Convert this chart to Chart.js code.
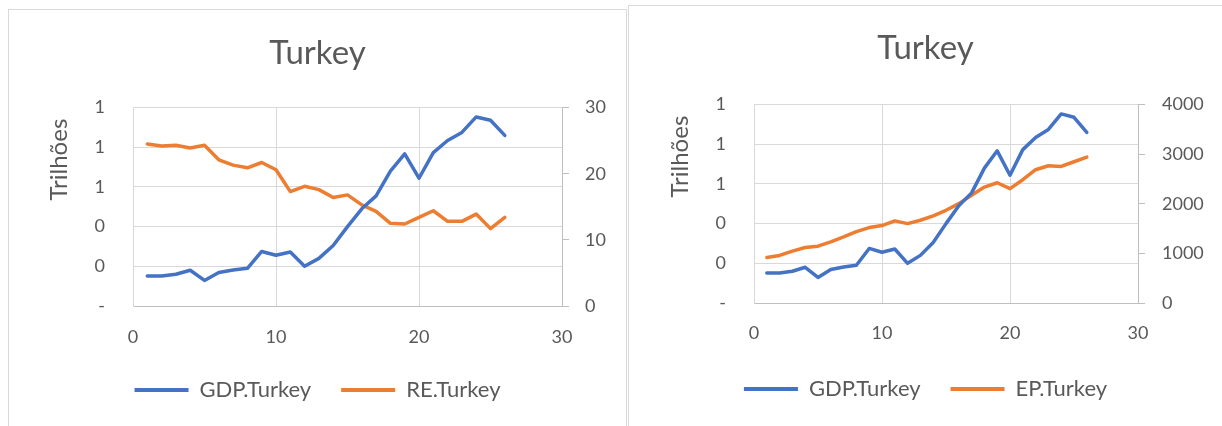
<!DOCTYPE html>
<html lang="pt">
<head>
  <meta charset="UTF-8">
  <title>Turkey</title>
  <script src="https://cdn.jsdelivr.net/npm/chart.js"></script>
  <style>
    body {
      margin: 0;
      width: 1222px;
      height: 426px;
      overflow: hidden;
      position: relative;
      background: #fff;
      font-family: Lato, sans-serif;
    }

    .panel {
      position: absolute;
      border: 1px solid #D9D9D9;
      background: #fff;
    }

    #p1 { left: 8px; top: 9px; width: 617px; height: 440px; }
    #p2 { left: 628px; top: 5px; width: 600px; height: 440px; }

    canvas { display: block; }
  </style>
</head>
<body>
  <div class="panel" id="p1"><canvas id="c1" width="617" height="416"></canvas></div>
  <div class="panel" id="p2"><canvas id="c2" width="593" height="420"></canvas></div>

  <script>
    const periods = [1, 2, 3, 4, 5, 6, 7, 8, 9, 10, 11, 12, 13, 14, 15, 16, 17, 18, 19, 20, 21, 22, 23, 24, 25, 26];
    const gdpTurkey = [0.151, 0.151, 0.16, 0.18, 0.129, 0.169, 0.181, 0.19, 0.275, 0.256, 0.272, 0.2, 0.24,
                       0.305, 0.40, 0.49, 0.555, 0.68, 0.767, 0.644, 0.773, 0.834, 0.875, 0.953, 0.936, 0.86];
    const reTurkey = [24.5, 24.2, 24.3, 23.9, 24.3, 22.1, 21.3, 20.9, 21.7, 20.6, 17.3, 18.1, 17.6,
                      16.4, 16.8, 15.3, 14.3, 12.5, 12.4, 13.4, 14.4, 12.8, 12.8, 13.9, 11.7, 13.4];
    const epTurkey = [918, 959, 1045, 1119, 1146, 1233, 1333, 1440, 1521, 1561, 1655, 1601, 1668,
                      1755, 1869, 2003, 2171, 2338, 2425, 2305, 2486, 2687, 2767, 2754, 2848, 2941];
    const xTicks = { min: 0, max: 30, step: 10 };
    const leftTicks = { min: 0, max: 1, step: 0.2 };

    const BLUE = '#4472C4';
    const ORANGE = '#ED7D31';
    const TEXT = '#595959';
    const GRID = '#D9D9D9';
    const AXIS = '#BFBFBF';
    const FONT = 'Lato, sans-serif';

    // rotated "Trilhões" title, placed like the spreadsheet does it
    const axisTitlePlugin = {
      id: 'axisTitle',
      afterDraw(chart, args, opts) {
        const { ctx, chartArea } = chart;
        ctx.save();
        ctx.translate(chartArea.left - opts.dx, chartArea.top + opts.dy);
        ctx.rotate(-Math.PI / 2);
        ctx.font = opts.size + 'px ' + FONT;
        ctx.fillStyle = TEXT;
        ctx.textAlign = 'center';
        ctx.textBaseline = 'middle';
        ctx.fillText(opts.text, 0, 0);
        ctx.restore();
      }
    };

    function buildChart(id, o) {
      const points = arr => periods.map((x, i) => ({ x: x, y: arr[i] }));
      return new Chart(document.getElementById(id), {
        type: 'line',
        data: {
          datasets: [
            { label: 'GDP.Turkey', data: points(gdpTurkey), yAxisID: 'y', borderColor: BLUE, backgroundColor: BLUE },
            { label: o.label, data: points(o.series), yAxisID: 'y1', borderColor: ORANGE, backgroundColor: ORANGE }
          ]
        },
        plugins: [axisTitlePlugin],
        options: {
          responsive: false,
          animation: false,
          layout: { padding: { top: 0, right: 0, left: 0, bottom: o.padBottom } },
          elements: {
            // point borderWidth only feeds the legend line thickness (radius is 0)
            point: { radius: 0, borderWidth: 4 },
            line: { borderWidth: 3.5, tension: 0, borderCapStyle: 'round', borderJoinStyle: 'round' }
          },
          plugins: {
            title: {
              display: true,
              text: 'Turkey',
              color: TEXT,
              font: { family: FONT, size: 33, weight: 'normal' },
              padding: { top: o.titleTop, bottom: o.titleBottom }
            },
            legend: {
              position: 'bottom',
              labels: {
                usePointStyle: true,
                pointStyle: 'line',
                pointStyleWidth: 54,
                color: TEXT,
                font: { family: FONT, size: 22 },
                padding: 30
              }
            },
            tooltip: { enabled: false },
            axisTitle: { text: 'Trilhões', size: 24, dx: 74, dy: 52 }
          },
          scales: {
            x: {
              type: 'linear',
              min: xTicks.min,
              max: xTicks.max,
              ticks: { stepSize: xTicks.step, color: TEXT, font: { family: FONT, size: 18 }, padding: o.xPad },
              grid: { color: GRID, drawTicks: false },
              border: { color: AXIS },
              afterFit: s => { s.height = o.xHeight; }
            },
            y: {
              position: 'left',
              min: leftTicks.min,
              max: leftTicks.max,
              ticks: {
                stepSize: leftTicks.step,
                color: TEXT,
                font: { family: FONT, size: 18 },
                padding: 28,
                callback: v => (v === 0 ? '-' : String(Math.round(v)))
              },
              grid: { color: GRID, drawTicks: false },
              border: { color: GRID },
              afterFit: s => { s.width = o.yWidth; }
            },
            y1: {
              position: 'right',
              min: 0,
              max: o.max,
              ticks: {
                stepSize: o.step,
                color: TEXT,
                font: { family: FONT, size: 18 },
                padding: o.y1Pad,
                callback: v => String(v)
              },
              grid: { drawOnChartArea: false, color: AXIS, tickLength: 7 },
              border: { color: AXIS },
              afterFit: s => { s.width = o.y1Width; }
            }
          }
        }
      });
    }

    buildChart('c1', {
      label: 'RE.Turkey', series: reTurkey, max: 30, step: 10,
      titleTop: 24, titleBottom: 34, padBottom: 15, xHeight: 43, xPad: 20,
      yWidth: 124, y1Width: 64, y1Pad: 16
    });

    buildChart('c2', {
      label: 'EP.Turkey', series: epTurkey, max: 4000, step: 1000,
      titleTop: 23, titleBottom: 36, padBottom: 16, xHeight: 45, xPad: 19,
      yWidth: 125, y1Width: 84, y1Pad: 17
    });
  </script>
</body>
</html>
